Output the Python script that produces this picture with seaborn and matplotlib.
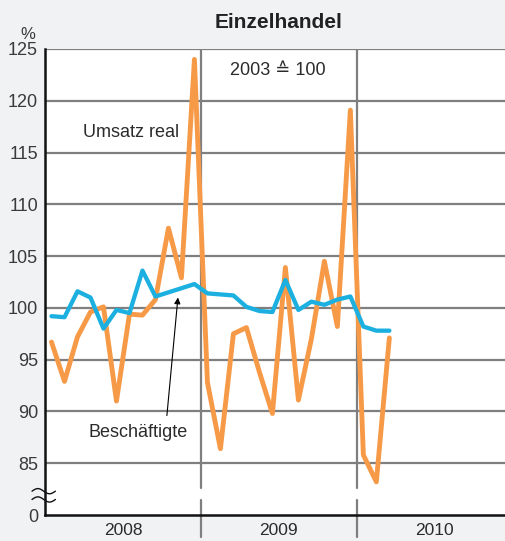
import numpy as np
import pandas as pd
import matplotlib
matplotlib.use("Agg")
import matplotlib.pyplot as plt
import seaborn as sns

# Monthly values, Jan 2008 .. Mar 2010 (2003 = 100)
umsatz_real = [96.7, 92.9, 97.2, 99.6, 100.1, 91.0, 99.4, 99.3, 100.8, 107.7, 102.9, 124.0,
               92.8, 86.4, 97.5, 98.1, 93.8, 89.8, 103.9, 91.1, 97.0, 104.5, 98.2, 119.1,
               85.8, 83.2, 97.1]
beschaeftigte = [99.2, 99.1, 101.6, 101.0, 98.0, 99.8, 99.5, 103.6, 101.1, 101.5, 101.9, 102.3,
                 101.4, 101.3, 101.2, 100.1, 99.7, 99.6, 102.7, 99.8, 100.6, 100.3, 100.8, 101.1,
                 98.2, 97.8, 97.8]
years = ["2008", "2009", "2010"]
ytick_vals = [80, 85, 90, 95, 100, 105, 110, 115, 120, 125]
ytick_labels = ["0", "85", "90", "95", "100", "105", "110", "115", "120", "125"]

BG = "#f1f2f4"
ORANGE = "#f79a48"
BLUE = "#1cb0e0"
GRID = "#7f7f80"
TXT = "#2b2b2b"

sns.set_style("white")
plt.rcParams["font.family"] = ["Liberation Sans", "DejaVu Sans"]

df = pd.DataFrame({
    "monat": np.arange(len(umsatz_real)) + 0.5,
    "Umsatz real": umsatz_real,
    "Beschäftigte": beschaeftigte,
})

fig = plt.figure(figsize=(5.05, 5.41), dpi=100, facecolor=BG)
ax = fig.add_axes([45 / 505, 26 / 541, 1 - 45 / 505, 466 / 541])
ax.set_facecolor("white")

ax.set_xlim(0, 35.4)
ax.set_ylim(80, 125)

# grid
for v in ytick_vals[1:]:
    ax.axhline(v, color=GRID, lw=1.6, zorder=1)
for yb in [12, 24]:
    ax.plot([yb, yb], [125, 82.6], color=GRID, lw=1.6, zorder=1)
    ax.plot([yb, yb], [81.45, 77.9], color=GRID, lw=1.6, zorder=1, clip_on=False)

sns.lineplot(data=df, x="monat", y="Umsatz real", color=ORANGE, lw=3.5, ax=ax, zorder=3)
sns.lineplot(data=df, x="monat", y="Beschäftigte", color=BLUE, lw=3.1, ax=ax, zorder=4)

# axes styling
for s in ["top", "right"]:
    ax.spines[s].set_visible(False)
ax.spines["left"].set_color("#111111")
ax.spines["left"].set_linewidth(1.8)
ax.spines["bottom"].set_color("#111111")
ax.spines["bottom"].set_linewidth(1.8)
ax.spines["left"].set_zorder(5)

ax.set_yticks(ytick_vals)
ax.set_yticklabels(ytick_labels)
ax.tick_params(axis="y", length=0, pad=5, labelsize=13, labelcolor="#3a3a3a")
month_ticks = [m for m in range(1, 36) if m % 12 != 0]
ax.set_xticks(month_ticks)
ax.set_xticklabels([])
ax.tick_params(axis="x", direction="in", length=6, width=1.3, color="#222222")
ax.set_xlabel("")
ax.set_ylabel("")

for i, yr in enumerate(years):
    ax.text(6 + 12 * i, 78.5, yr, ha="center", va="center", fontsize=12.5,
            color=TXT, clip_on=False)

# axis break
bx = np.linspace(-1.0, 0.8, 60)
for y0 in [82.3, 81.5]:
    ax.plot(bx, y0 + 0.25 * np.sin((bx + 1.0) / 1.8 * 2 * np.pi), color="#111111",
            lw=1.0, clip_on=False, zorder=6)

ax.text(-1.3, 126.4, "%", ha="center", va="center", fontsize=12, color="#3a3a3a",
        clip_on=False)

ax.text(6.6, 116.9, "Umsatz real", ha="center", va="center", fontsize=13, color=TXT)
ax.text(17.9, 122.9, "2003 \u2259 100", ha="center", va="center", fontsize=13, color=TXT)
ax.text(7.2, 88.0, "Beschäftigte", ha="center", va="center", fontsize=13, color=TXT)
ax.annotate("", xy=(10.23, 101.0), xytext=(9.38, 89.6),
            arrowprops=dict(arrowstyle="-|>", lw=0.8, color="black", mutation_scale=9,
                            shrinkA=0, shrinkB=0), zorder=6)

fig.text(279 / 505, 1 - 23 / 541, "Einzelhandel", ha="center", va="center",
         fontsize=15, fontweight="bold", color="#222222")

fig.savefig("out.png", dpi=100, facecolor=BG)
